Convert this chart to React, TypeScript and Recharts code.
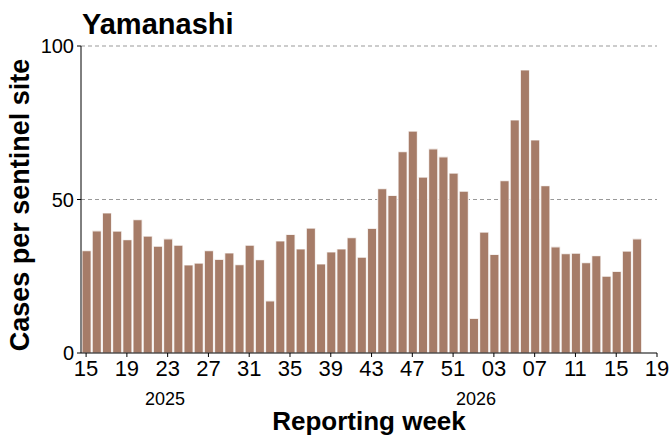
import { BarChart, Bar, XAxis, YAxis, CartesianGrid } from 'recharts';

// weekly values
const weeks2025 = [
  '15', '16', '17', '18', '19', '20', '21', '22', '23', '24',
  '25', '26', '27', '28', '29', '30', '31', '32', '33', '34',
  '35', '36', '37', '38', '39', '40', '41', '42', '43', '44',
  '45', '46', '47', '48', '49', '50', '51', '52',
];
const weeks2026 = [
  '01', '02', '03', '04', '05', '06', '07', '08', '09', '10',
  '11', '12', '13', '14', '15', '16', '17', '18', '19',
];
const values2025 = [
  33.3, 39.8, 45.6, 39.7, 36.9, 43.4, 38.1, 34.8, 37.2, 35.1,
  28.7, 29.3, 33.3, 30.5, 32.6, 28.8, 35.1, 30.4, 17.0, 36.5,
  38.6, 33.9, 40.7, 29.0, 32.9, 33.9, 37.6, 31.2, 40.6, 53.5,
  51.3, 65.6, 72.3, 57.3, 66.5, 63.9, 58.6, 52.7,
];
const values2026 = [
  11.3, 39.4, 32.1, 56.1, 75.9, 92.2, 69.4, 54.5, 34.6, 32.4,
  32.5, 29.4, 31.7, 25.0, 26.6, 33.2, 37.2,
];
const yTicks = [0, 50, 100];

const allWeeks = [...weeks2025, ...weeks2026];
const allValues = [...values2025, ...values2026];
const data = allValues.map((v, i) => ({ pos: i, week: allWeeks[i], cases: v }));
const xTicks = allWeeks.map((_, i) => i).filter((i) => i % 4 === 0);

const W = 671;
const H = 441;
const FONT = "'Liberation Sans', Arial, sans-serif";

export default function App() {
  return (
    <div style={{ position: 'absolute', left: 0, top: 0, width: W, height: H, background: '#fff' }}>
      <BarChart
        width={W}
        height={H}
        data={data}
        margin={{ top: 46, right: 14, left: 0, bottom: 0 }}
        barCategoryGap={0}
      >
        <CartesianGrid
          vertical={false}
          stroke="#999999"
          strokeDasharray="4 3"
          horizontalValues={[50, 100]}
        />
        <XAxis
          dataKey="pos"
          type="number"
          domain={[-0.5, allWeeks.length - 1]}
          ticks={xTicks}
          tickFormatter={(i) => allWeeks[i]}
          height={88}
          interval={0}
          stroke="#000"
          tickSize={4}
          tickMargin={3}
          tick={{ fill: '#000', fontSize: 22, fontFamily: FONT }}
        />
        <YAxis
          domain={[0, 100]}
          ticks={yTicks}
          width={81}
          stroke="#000"
          tickSize={4}
          tickMargin={3}
          tick={{ fill: '#000', fontSize: 20, fontFamily: FONT }}
        />
        <Bar
          dataKey="cases"
          fill="#a67c68"
          stroke="#ffffff"
          strokeOpacity={0.8}
          strokeWidth={1.2}
          barSize={10.2}
          isAnimationActive={false}
        />
      </BarChart>
      <svg
        width={W}
        height={H}
        style={{ position: 'absolute', left: 0, top: 0, pointerEvents: 'none' }}
        fontFamily={FONT}
      >
        <text x={82} y={34} fontSize={29} fontWeight="bold" fill="#000">Yamanashi</text>
        <text x={165} y={405} fontSize={18} textAnchor="middle" fill="#000">2025</text>
        <text x={476} y={405} fontSize={18} textAnchor="middle" fill="#000">2026</text>
        <text x={369} y={430} fontSize={26} fontWeight="bold" textAnchor="middle" fill="#000">
          Reporting week
        </text>
        <text
          x={29}
          y={205}
          fontSize={27}
          fontWeight="bold"
          textAnchor="middle"
          fill="#000"
          transform="rotate(-90 29 205)"
        >
          Cases per sentinel site
        </text>
      </svg>
    </div>
  );
}
